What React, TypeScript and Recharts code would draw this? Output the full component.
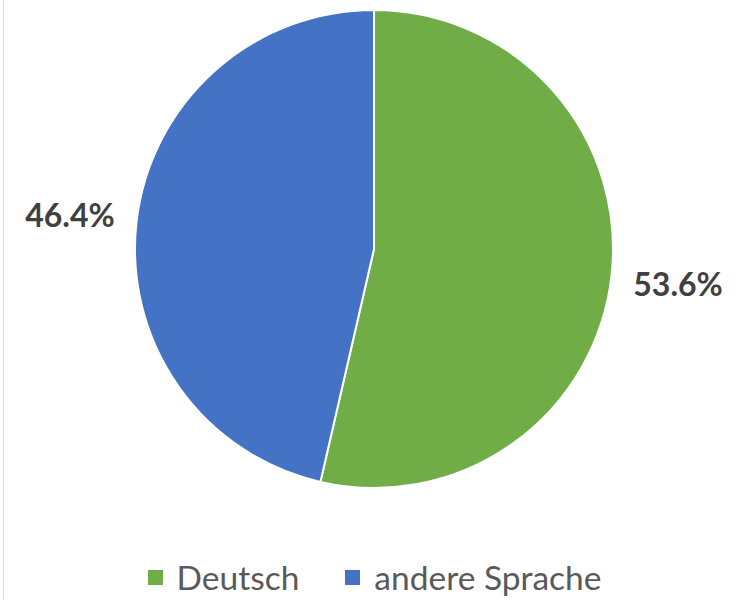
import { PieChart, Pie, Cell, Legend } from "recharts";

const languages = ["Deutsch", "andere Sprache"];
const shares = [53.6, 46.4];
const colors = ["#70AD47", "#4472C4"];

const data = languages.map((name, i) => ({ name, value: shares[i] }));

const RADIAN = Math.PI / 180;

function renderLabel(props: any) {
  const { cx, cy, midAngle, outerRadius, percent } = props;
  const r = outerRadius + 67;
  const x = cx + r * Math.cos(-midAngle * RADIAN);
  const y = cy + r * Math.sin(-midAngle * RADIAN);
  return (
    <text
      x={x}
      y={y}
      textAnchor="middle"
      dominantBaseline="central"
      fill="#404040"
      fontFamily="Lato"
      fontWeight="bold"
      fontSize={32}
    >
      {(percent * 100).toFixed(1)}%
    </text>
  );
}

function LegendContent() {
  return (
    <div
      style={{
        display: "flex",
        justifyContent: "center",
        alignItems: "center",
        fontFamily: "Lato",
        fontSize: 33.5,
        lineHeight: "40px",
        color: "#595959",
      }}
    >
      {languages.map((name, i) => (
        <div key={name} style={{ display: "flex", alignItems: "center", marginRight: i === 0 ? 46 : 0 }}>
          <span
            style={{ width: 15, height: 15, background: colors[i], display: "inline-block", marginRight: 14 }}
          />
          <span>{name}</span>
        </div>
      ))}
    </div>
  );
}

export default function App() {
  return (
    <div style={{ position: "absolute", left: 0, top: 0, width: 749, height: 600, background: "#fff" }}>
      <div style={{ position: "absolute", left: 3, top: 0, width: 1, height: 600, background: "#d9d9d9" }} />
      <PieChart width={749} height={600} margin={{ top: 0, right: 0, bottom: 0, left: 0 }}>
        <Pie
          data={data}
          dataKey="value"
          nameKey="name"
          cx={374}
          cy={249}
          outerRadius={239}
          startAngle={90}
          endAngle={-270}
          stroke="#fff"
          strokeWidth={2}
          label={renderLabel}
          labelLine={false}
          isAnimationActive={false}
        >
          {data.map((d, i) => (
            <Cell key={d.name} fill={colors[i]} />
          ))}
        </Pie>
        <Legend
          content={<LegendContent />}
          wrapperStyle={{ position: "absolute", left: 0, top: 557, width: 749 }}
        />
      </PieChart>
    </div>
  );
}
